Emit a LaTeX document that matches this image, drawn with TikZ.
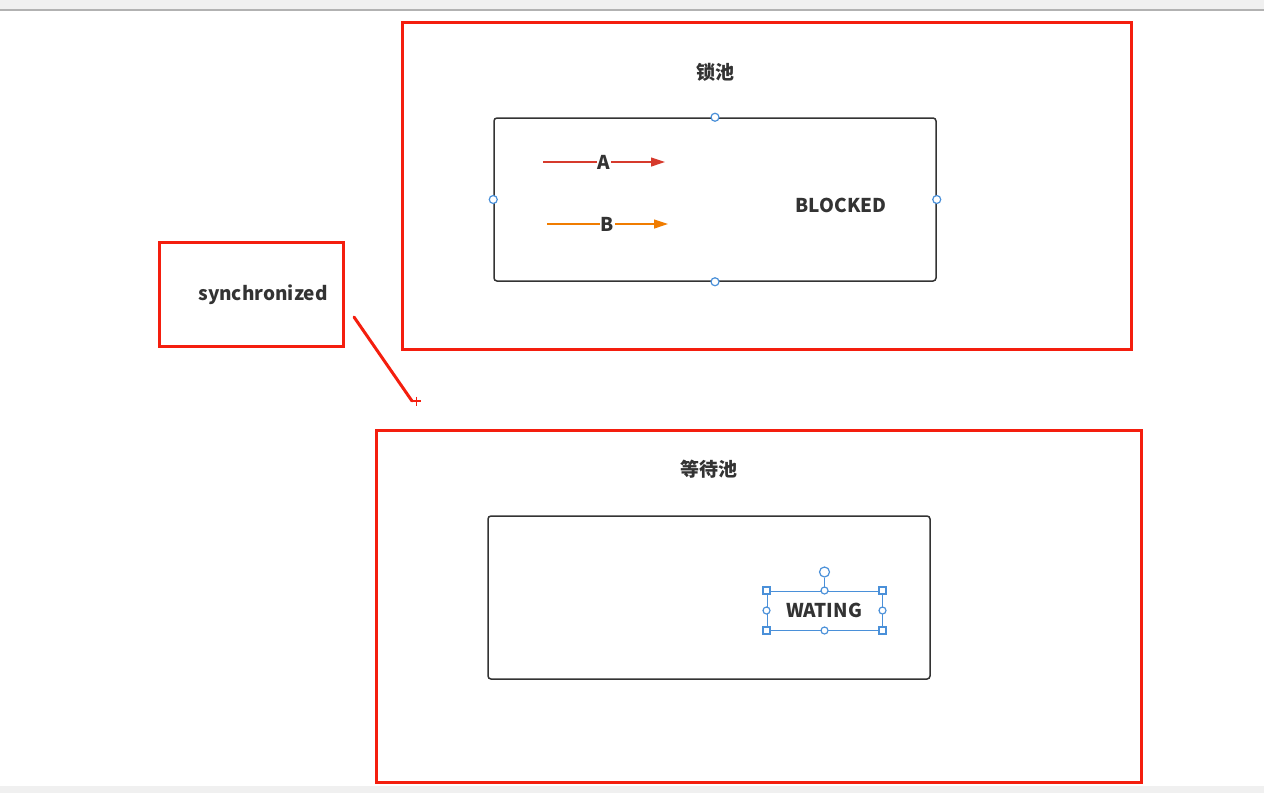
\documentclass[tikz,border=0pt]{standalone}
\usepackage{fontspec}
\setmainfont{Noto Sans CJK SC}
\usetikzlibrary{arrows.meta,positioning,calc}
\definecolor{boxred}{RGB}{244,30,14}
\definecolor{arrowred}{RGB}{214,58,44}
\definecolor{arroworange}{RGB}{240,124,0}
\definecolor{handleblue}{RGB}{74,144,217}
\definecolor{textgray}{RGB}{51,51,51}
\tikzset {
    redbox/.style={draw=boxred, line width=1.5pt, inner sep=0pt},
    pool/.style={draw=black!80, line width=0.75pt, rounded corners=1.5pt,
        minimum width=221pt, minimum height=81.5pt, inner sep=0pt},
    label/.style={text=textgray, font=\bfseries\fontsize{9.5}{11}\selectfont,
        inner sep=1pt},
    handle/.style={circle, draw=handleblue, fill=white, line width=0.6pt,
        minimum size=4pt, inner sep=0pt},
    sqhandle/.style={rectangle, draw=handleblue, fill=white, line width=0.6pt,
        minimum size=3.5pt, inner sep=0pt},
    thread/.style={line width=0.6pt, -{Triangle[length=7pt, width=4.5pt]}},
    >=Latex
}
\begin{document}
\begin{tikzpicture}[x=0.5pt, y=-0.5pt]

    \useasboundingbox (0,0) rectangle (1264,793);
    % editor frame
    \fill[gray!12] (0,0) rectangle (1264,10);
    \draw[gray!60, line width=0.6pt] (0,10) -- (1264,10);
    \fill[gray!12] (0,786) rectangle (1264,793);

    % lock pool
    \node[redbox, minimum width=364.5pt, minimum height=163.5pt] (lockArea) at (766.5,185.5) {};
    \node[label] (lockTitle) at (715,72) {锁池};
    \node[pool] (lockPool) at (715,199.5) {};
    \node[label] (blocked) at (841,205) {BLOCKED};

    \node[handle] at (lockPool.north) {};
    \node[handle] at (lockPool.south) {};
    \node[handle] at (lockPool.west) {};
    \node[handle] at (lockPool.east) {};

    \coordinate (aStart) at (543,162);
    \coordinate (aEnd) at (665,162);
    \coordinate (bStart) at (547,224);
    \coordinate (bEnd) at (668,224);
    \draw[thread, arrowred] (aStart) -- node[label, fill=white, inner sep=0.5pt] (threadA) {A} (aEnd);
    \draw[thread, arroworange] (bStart) -- node[label, fill=white, inner sep=0.5pt] (threadB) {B} (bEnd);

    % synchronized
    \node[redbox, minimum width=92pt, minimum height=52pt] (syncBox) at (251,294) {};
    \node[label] (sync) at (263,295) {synchronized};

    \coordinate (linkStart) at (354,317);
    \coordinate (linkEnd) at (412,401);
    \draw[boxred, line width=1.5pt, line cap=round] (linkStart) -- (linkEnd);
    % cursor
    \draw[boxred, line width=0.6pt] (linkEnd) -- ++(9,0) ($(linkEnd)+(4.5,-4.5)$) -- ++(0,9);

    % wait pool
    \node[redbox, minimum width=382.5pt, minimum height=176pt] (waitArea) at (758.5,606) {};
    \node[label] (waitTitle) at (709,469) {等待池};
    \node[pool] (waitPool) at (709,597.5) {};

    \node[draw=handleblue, line width=0.5pt, minimum width=57.5pt, minimum height=19.5pt,
        inner sep=0pt] (waitSel) at (824.5,610.5) {};
    \node[label] (waiting) at (824,610) {WATING};
    \node[handle, minimum size=5pt] (rotHandle) at (824.5,572) {};
    \draw[handleblue, line width=0.6pt] (rotHandle) -- (waitSel.north);
    \foreach \a in {north, south, west, east}
        \node[handle, minimum size=3.5pt] at (waitSel.\a) {};
    \foreach \a in {north west, north east, south west, south east}
        \node[sqhandle] at (waitSel.\a) {};

\end{tikzpicture}
\end{document}
